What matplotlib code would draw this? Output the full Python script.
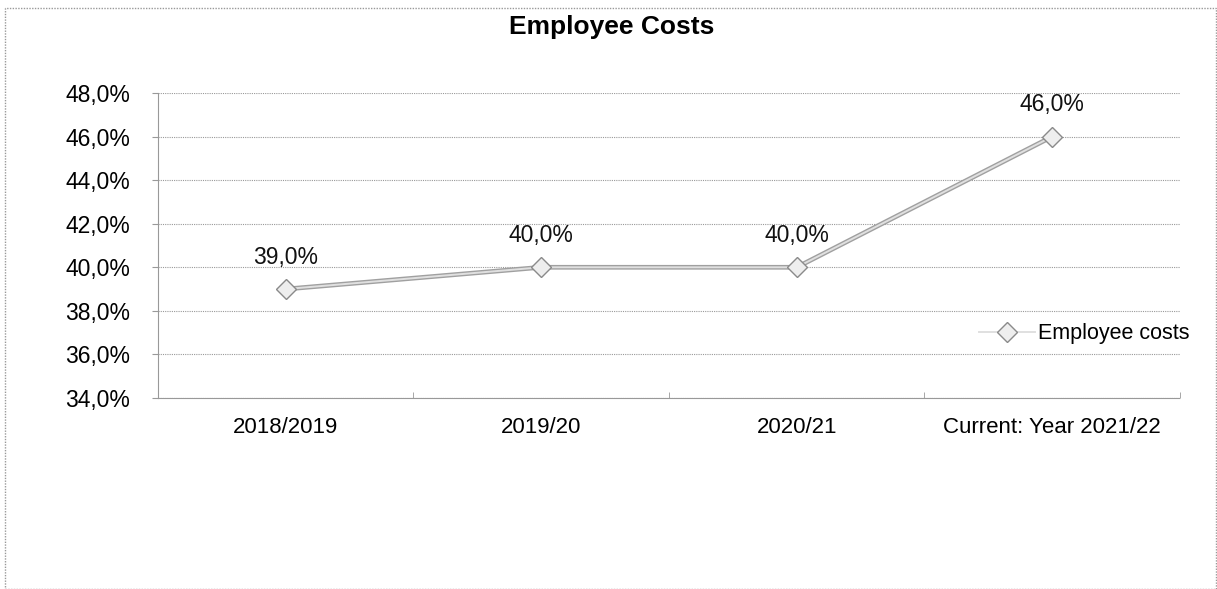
import matplotlib.pyplot as plt
from matplotlib.patches import Rectangle

categories = ["2018/2019", "2019/20", "2020/21", "Current: Year 2021/22"]
employee_costs = [39.0, 40.0, 40.0, 46.0]
y_ticks = [34, 36, 38, 40, 42, 44, 46, 48]

plt.rcParams['font.family'] = ['Liberation Sans', 'DejaVu Sans']

fig = plt.figure(figsize=(12.17, 5.89), dpi=100)
ax = fig.add_axes([0.1298, 0.3243, 0.8398, 0.5178])

# outer chart frame
fig.patches.append(Rectangle((5 / 1217, 0), 1211 / 1217, 1 - 8 / 589, transform=fig.transFigure,
                             fill=False, edgecolor='#999999', linestyle=(0, (1, 1)), linewidth=1))

x = list(range(len(categories)))
ax.plot(x, employee_costs, color='#a0a0a0', linewidth=3.4, zorder=3)
ax.plot(x, employee_costs, color='#e0e0e0', linewidth=1.4, zorder=4,
        marker='D', markersize=10, markerfacecolor='#eeeeee', markeredgecolor='#8a8a8a',
        markeredgewidth=1, label='Employee costs')

for xi, v in zip(x, employee_costs):
    ax.annotate(f"{v:.1f}%".replace('.', ','), (xi, v), xytext=(0, 23), textcoords='offset points',
                ha='center', va='center', fontsize=16.5, color='#111111')

ax.set_xlim(-0.5, len(categories) - 0.5)
ax.set_ylim(34, 48)
ax.set_yticks(y_ticks)
ax.set_yticklabels([f"{t:.1f}%".replace('.', ',') for t in y_ticks], fontsize=16.5)
ax.set_xticks(x)
ax.set_xticklabels(categories, fontsize=16)
ax.set_xticks([i + 0.5 for i in range(-1, len(categories))], minor=True)
ax.tick_params(axis='x', which='major', length=0, pad=14)
ax.tick_params(axis='x', which='minor', length=4, color='#999999', direction='in')
ax.tick_params(axis='y', length=4, color='#999999', pad=16)

ax.grid(axis='y', color='#999999', linestyle=(0, (1, 1)), linewidth=0.8)
ax.set_axisbelow(True)
for side in ['top', 'right']:
    ax.spines[side].set_visible(False)
for side in ['left', 'bottom']:
    ax.spines[side].set_color('#999999')
    ax.spines[side].set_linestyle((0, (1, 1)))

leg = ax.legend(loc='center left', bbox_to_anchor=(0.795, 0.21), frameon=False, fontsize=15.5,
                handlelength=2.6, handletextpad=0.15, borderaxespad=0)

fig.text(0.503, 0.954, "Employee Costs", ha='center', va='center', fontsize=19, fontweight='bold')

fig.savefig("out.png", dpi=100)
